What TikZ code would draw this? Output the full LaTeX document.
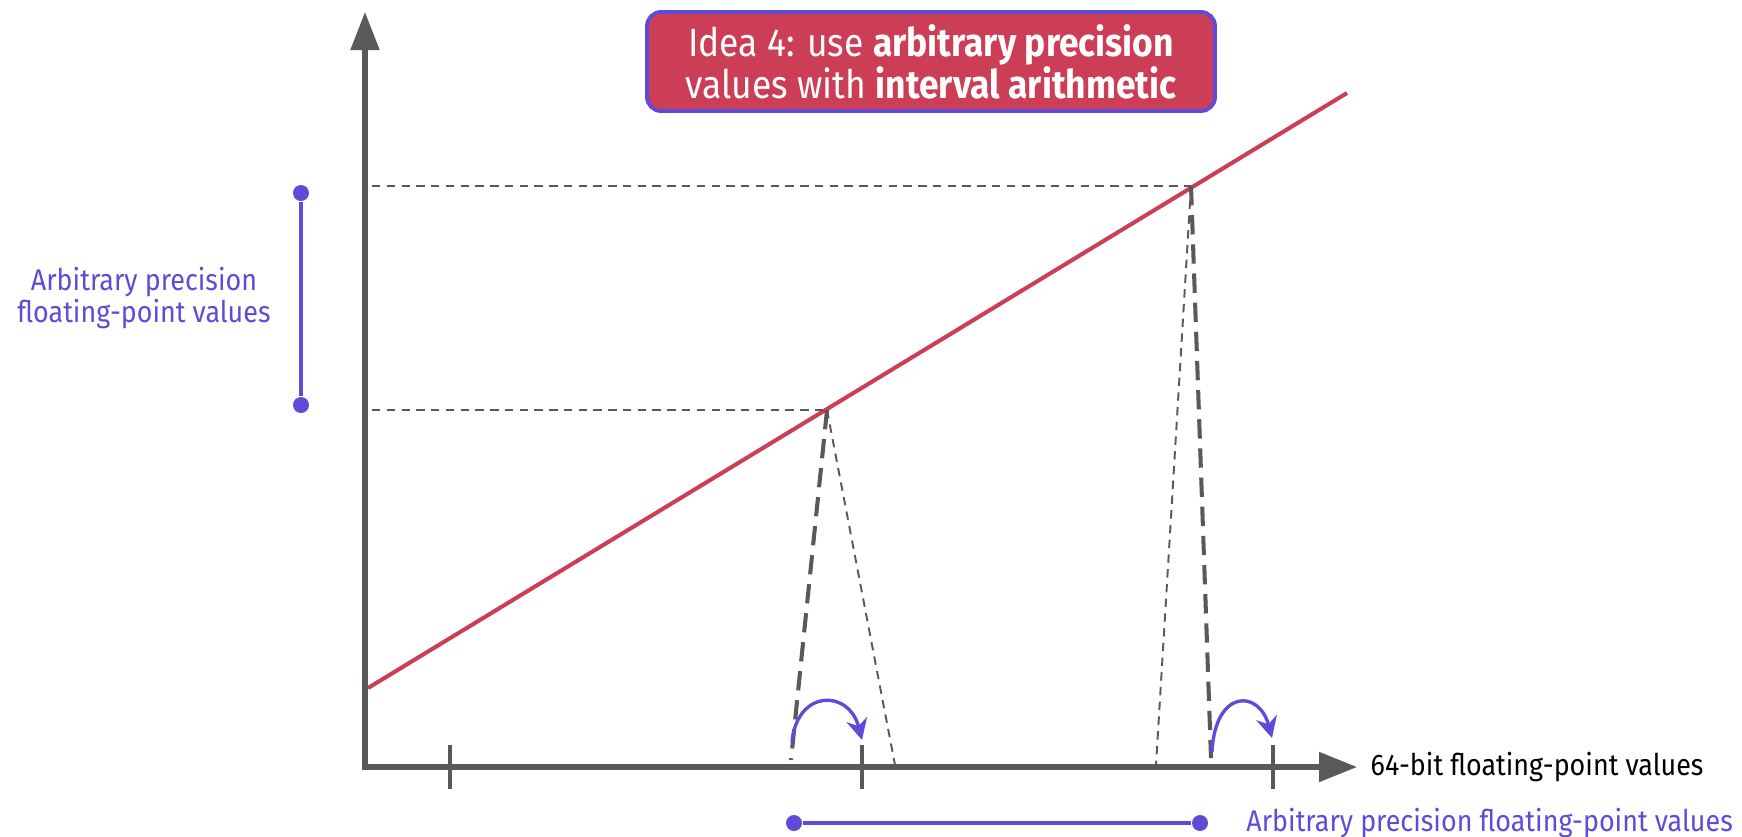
\documentclass[tikz,border=0pt]{standalone}
\usepackage{fontspec}
\setmainfont[FakeStretch=0.9]{Fira Sans}
\usetikzlibrary{positioning, arrows.meta, calc}
\usepackage{xcolor}
\definecolor{ivred}{HTML}{CC3D56}
\definecolor{ivblue}{HTML}{604BD8}
\definecolor{ivgray}{HTML}{595959}

\begin{document}
\begin{tikzpicture}[
    axisline/.style={line width=1.45pt, color=ivgray},
    tickmark/.style={line width=1.15pt, color=ivgray},
    guide/.style={line width=0.55pt, color=ivgray, dash pattern=on 2.4pt off 1.8pt},
    bigguide/.style={line width=1.15pt, color=ivgray, dash pattern=on 5.5pt off 2.8pt},
    hop/.style={line width=0.95pt, color=ivblue, -{Stealth[length=6pt, width=6pt]}},
    spanline/.style={line width=1pt, color=ivblue},
    endpt/.style={circle, fill=ivblue, inner sep=0pt, minimum size=0.16cm},
    lbl/.style={font=\fontsize{8.5}{9.2}\selectfont, inner sep=0pt, align=center}]
    \useasboundingbox (-3.65,-0.69) rectangle (13.77,7.67);

    % axes
    \coordinate (o) at (0,-0.025);
    \coordinate (ox) at (-0.025,0);
    \coordinate (ytop) at (0,7.55);
    \coordinate (xend) at (9.92,0);
    \draw[axisline, -{Triangle[length=0.38cm, width=0.28cm]}] (o) -- (ytop);
    \draw[axisline, -{Triangle[length=0.38cm, width=0.29cm]}] (ox) -- (xend);
    \foreach \x in {0.85,4.97,9.08}
        \draw[tickmark] (\x,0.22) -- (\x,-0.22);
    \node[lbl, anchor=west] (xlab) at (10.05,0) {64-bit floating-point values};

    % the function
    \coordinate (fa) at (0.03,0.79);
    \coordinate (fb) at (9.82,6.74);
    \draw[line width=1.15pt, color=ivred] (fa) -- (fb);

    % two sample points
    \coordinate (p1) at (4.62,3.57);
    \coordinate (p2) at (8.26,5.81);
    \coordinate (h1) at (0.07,3.57);
    \coordinate (h2) at (0.07,5.81);
    \draw[guide] (h1) -- (p1);
    \draw[guide] (h2) -- (p2);

    \coordinate (a1) at (4.26,0.07);
    \coordinate (b1) at (5.30,0.02);
    \coordinate (a2) at (8.46,0.09);
    \coordinate (b2) at (7.91,0.02);
    \draw[bigguide] (p1) -- (a1);
    \draw[guide] (p1) -- (b1);
    \draw[bigguide] (p2) -- (a2);
    \draw[guide] (p2) -- (b2);

    % rounding hops
    \coordinate (s1) at (4.27,0.25);
    \coordinate (e1) at (4.97,0.27);
    \coordinate (s2) at (8.47,0.15);
    \coordinate (e2) at (9.07,0.29);
    \draw[hop] (s1) .. controls (4.32,0.78) and (4.84,0.78) .. (e1);
    \draw[hop] (s2) .. controls (8.50,0.78) and (8.94,0.78) .. (e2);

    % precision ranges
    \node[endpt] (r1) at (4.29,-0.56) {};
    \node[endpt] (r2) at (8.35,-0.56) {};
    \draw[spanline] (r1) -- (r2);
    \node[lbl, text=ivblue, right=0.37cm of r2] (rlab) {Arbitrary precision floating-point values};

    \node[endpt] (l1) at (-0.64,5.74) {};
    \node[endpt] (l2) at (-0.64,3.62) {};
    \draw[spanline] (l1) -- (l2);
    \node[lbl, text=ivblue] (llab) at (-2.21,4.69) {Arbitrary precision\\floating-point values};

    % title
    \node[draw=ivblue, fill=ivred, line width=1.1pt, rounded corners=4pt, text=white,
          minimum width=5.68cm, minimum height=0.99cm, align=center,
          font=\fontsize{11.2}{12}\selectfont] (title) at (5.66,7.055)
          {Idea 4: use \textbf{arbitrary precision}\\values with \textbf{interval arithmetic}};
\end{tikzpicture}
\end{document}
